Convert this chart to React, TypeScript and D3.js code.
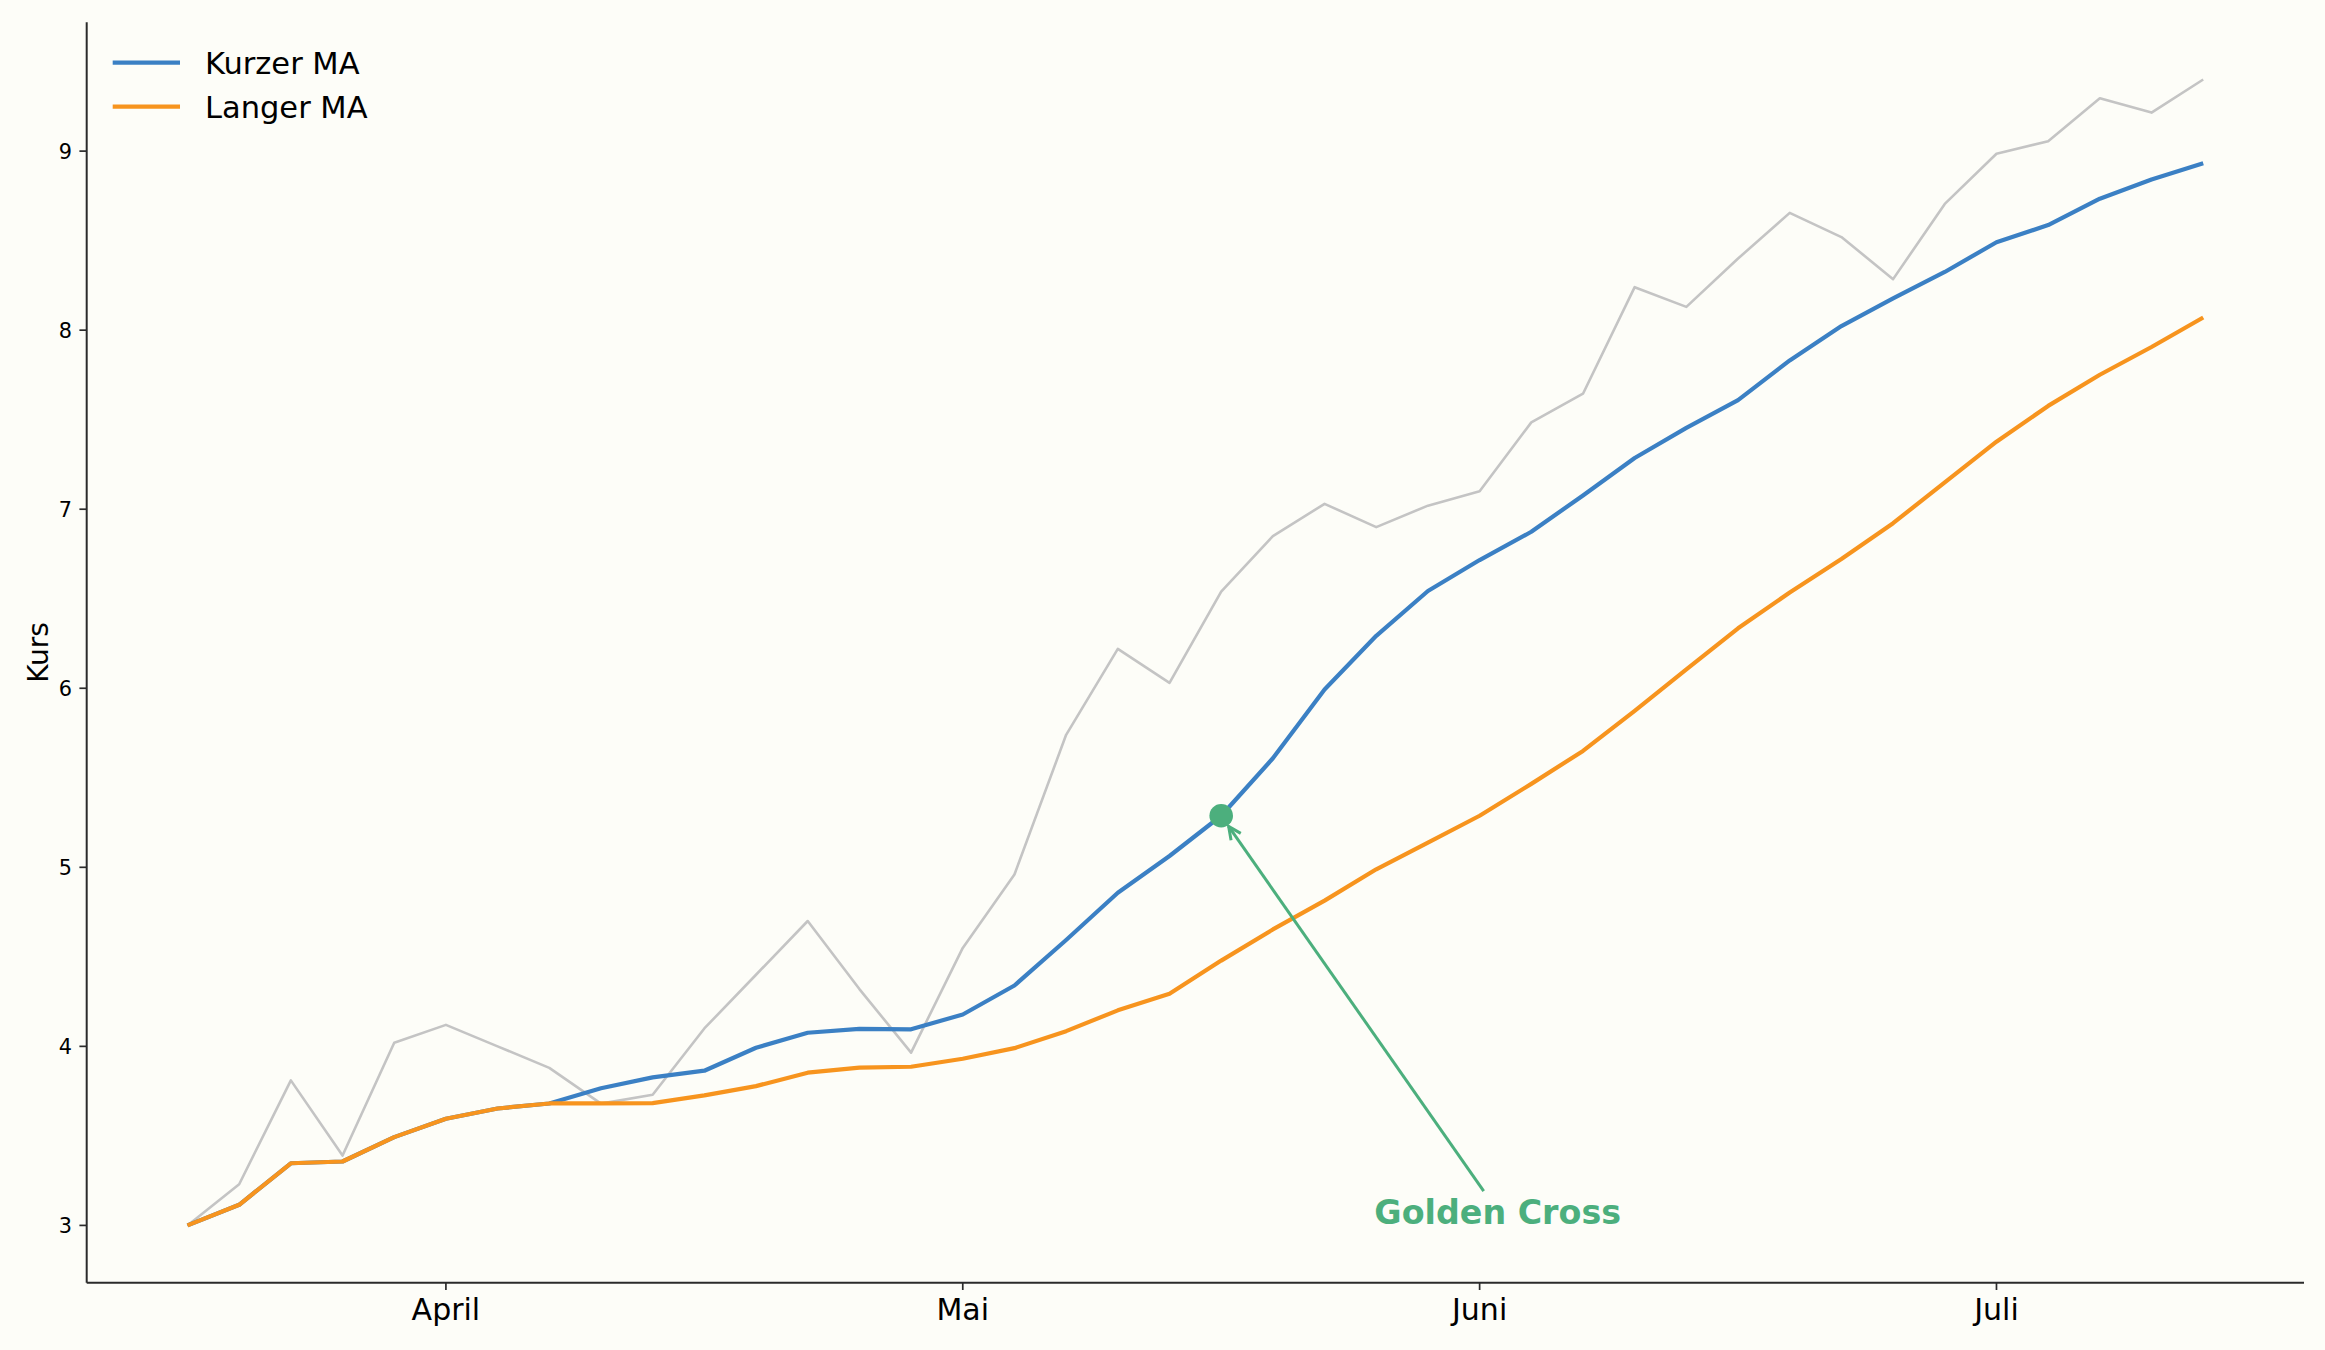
import React from "react";
import * as d3 from "d3";

const priceSeries = [3.0, 3.23, 3.81, 3.39, 4.02, 4.12, 4.0, 3.88, 3.68, 3.73, 4.1, 4.4, 4.7, 4.32, 3.965, 4.55, 4.96, 5.74, 6.22, 6.03, 6.54, 6.85, 7.03, 6.9, 7.02, 7.1, 7.485, 7.645, 8.24, 8.13, 8.4, 8.655, 8.52, 8.285, 8.705, 8.985, 9.055, 9.295, 9.215, 9.4];
const shortMA = [3.0, 3.115, 3.347, 3.357, 3.493, 3.596, 3.653, 3.681, 3.766, 3.827, 3.864, 3.992, 4.076, 4.098, 4.095, 4.178, 4.34, 4.594, 4.858, 5.063, 5.288, 5.609, 5.993, 6.293, 6.543, 6.716, 6.874, 7.077, 7.286, 7.454, 7.609, 7.831, 8.023, 8.178, 8.325, 8.491, 8.587, 8.734, 8.841, 8.932];
const longMA = [3.0, 3.115, 3.347, 3.357, 3.493, 3.596, 3.653, 3.681, 3.682, 3.683, 3.726, 3.778, 3.853, 3.881, 3.886, 3.931, 3.99, 4.085, 4.201, 4.294, 4.479, 4.653, 4.814, 4.989, 5.138, 5.288, 5.466, 5.65, 5.874, 6.105, 6.335, 6.535, 6.722, 6.922, 7.15, 7.377, 7.577, 7.751, 7.906, 8.071];

const monthTickIndex = [5, 15, 25, 35];
const monthTickLabels = ["April", "Mai", "Juni", "Juli"];
const yTicks = [3, 4, 5, 6, 7, 8, 9];

const seriesNames = ["Kurzer MA", "Langer MA"];
const crossIndex = 20;
const annotationText = "Golden Cross";
const annotationAnchor = { x: 25.35, y: 3.08 };

const W = 2325;
const H = 1350;
const FONT = "DejaVu Sans, Liberation Sans, sans-serif";
const BLUE = "#3b80c4";
const ORANGE = "#f7941e";
const GREEN = "#4caf7d";
const GRAY = "#c4c4c4";
const AXIS = "#2b2b2b";

export default function App() {
  const left = 86.7, right = 2304, top = 22.2, bottom = 1282.7;
  const n = priceSeries.length;
  const xPad = (n - 1) * 0.05;
  const x = d3.scaleLinear().domain([-xPad, n - 1 + xPad]).range([left, right]);
  const allVals = [...priceSeries, ...shortMA, ...longMA];
  const yMin = d3.min(allVals) as number;
  const yMax = d3.max(allVals) as number;
  const yPad = (yMax - yMin) * 0.05;
  const y = d3.scaleLinear().domain([yMin - yPad, yMax + yPad]).range([bottom, top]);

  const line = d3
    .line<number>()
    .x((_, i) => x(i))
    .y((d) => y(d));

  const cx = x(crossIndex);
  const cy = y(shortMA[crossIndex]);
  const ax = x(annotationAnchor.x);
  const ay = y(annotationAnchor.y);
  const dx = cx - ax, dy = cy - ay;
  const len = Math.hypot(dx, dy);
  const ux = dx / len, uy = dy / len;
  const tStart = 20 / Math.abs(uy);
  const sx = ax + ux * tStart, sy = ay + uy * tStart;
  const ex = cx - ux * 13, ey = cy - uy * 13;
  const headLen = 14;
  const headAng = (25 * Math.PI) / 180;
  const back = Math.atan2(-uy, -ux);
  const h1x = ex + headLen * Math.cos(back + headAng);
  const h1y = ey + headLen * Math.sin(back + headAng);
  const h2x = ex + headLen * Math.cos(back - headAng);
  const h2y = ey + headLen * Math.sin(back - headAng);

  const legendColors = [BLUE, ORANGE];

  return (
    <svg
      width={W}
      height={H}
      style={{ position: "absolute", left: 0, top: 0, display: "block" }}
      fontFamily={FONT}
    >
      <rect x={0} y={0} width={W} height={H} fill="#fdfdf8" />

      <path d={line(priceSeries) || ""} fill="none" stroke={GRAY} strokeWidth={2.6} strokeLinejoin="round" />
      <path d={line(shortMA) || ""} fill="none" stroke={BLUE} strokeWidth={4.2} strokeLinejoin="round" />
      <path d={line(longMA) || ""} fill="none" stroke={ORANGE} strokeWidth={4.2} strokeLinejoin="round" />

      <line x1={left} x2={left} y1={top} y2={bottom} stroke={AXIS} strokeWidth={2} />
      <line x1={left} x2={right} y1={bottom} y2={bottom} stroke={AXIS} strokeWidth={2} />

      {yTicks.map((t) => (
        <g key={"y" + t}>
          <line x1={left - 7.3} x2={left} y1={y(t)} y2={y(t)} stroke={AXIS} strokeWidth={1.7} />
          <text x={left - 14.6} y={y(t) + 7.6} textAnchor="end" fontSize={20.8} fill="#000">
            {t}
          </text>
        </g>
      ))}

      {monthTickIndex.map((t, i) => (
        <g key={"x" + t}>
          <line x1={x(t)} x2={x(t)} y1={bottom} y2={bottom + 7.3} stroke={AXIS} strokeWidth={1.7} />
          <text x={x(t)} y={bottom + 36.8} textAnchor="middle" fontSize={30} fill="#000">
            {monthTickLabels[i]}
          </text>
        </g>
      ))}

      <text
        transform={`translate(47.5, ${(top + bottom) / 2}) rotate(-90)`}
        textAnchor="middle"
        fontSize={28}
        fill="#000"
      >
        Kurs
      </text>

      {seriesNames.map((name, i) => (
        <g key={name}>
          <line x1={112.7} x2={180} y1={62.7 + i * 44} y2={62.7 + i * 44} stroke={legendColors[i]} strokeWidth={4.2} />
          <text x={205} y={73.6 + i * 44} fontSize={30.5} fill="#000">
            {name}
          </text>
        </g>
      ))}

      <line x1={sx} y1={sy} x2={ex} y2={ey} stroke={GREEN} strokeWidth={3} />
      <polyline points={`${h1x},${h1y} ${ex},${ey} ${h2x},${h2y}`} fill="none" stroke={GREEN} strokeWidth={3} />
      <circle cx={cx} cy={cy} r={11.8} fill={GREEN} />
      <text x={ax} y={ay + 13} textAnchor="middle" fontSize={33.3} fontWeight="bold" fill={GREEN}>
        {annotationText}
      </text>
    </svg>
  );
}
